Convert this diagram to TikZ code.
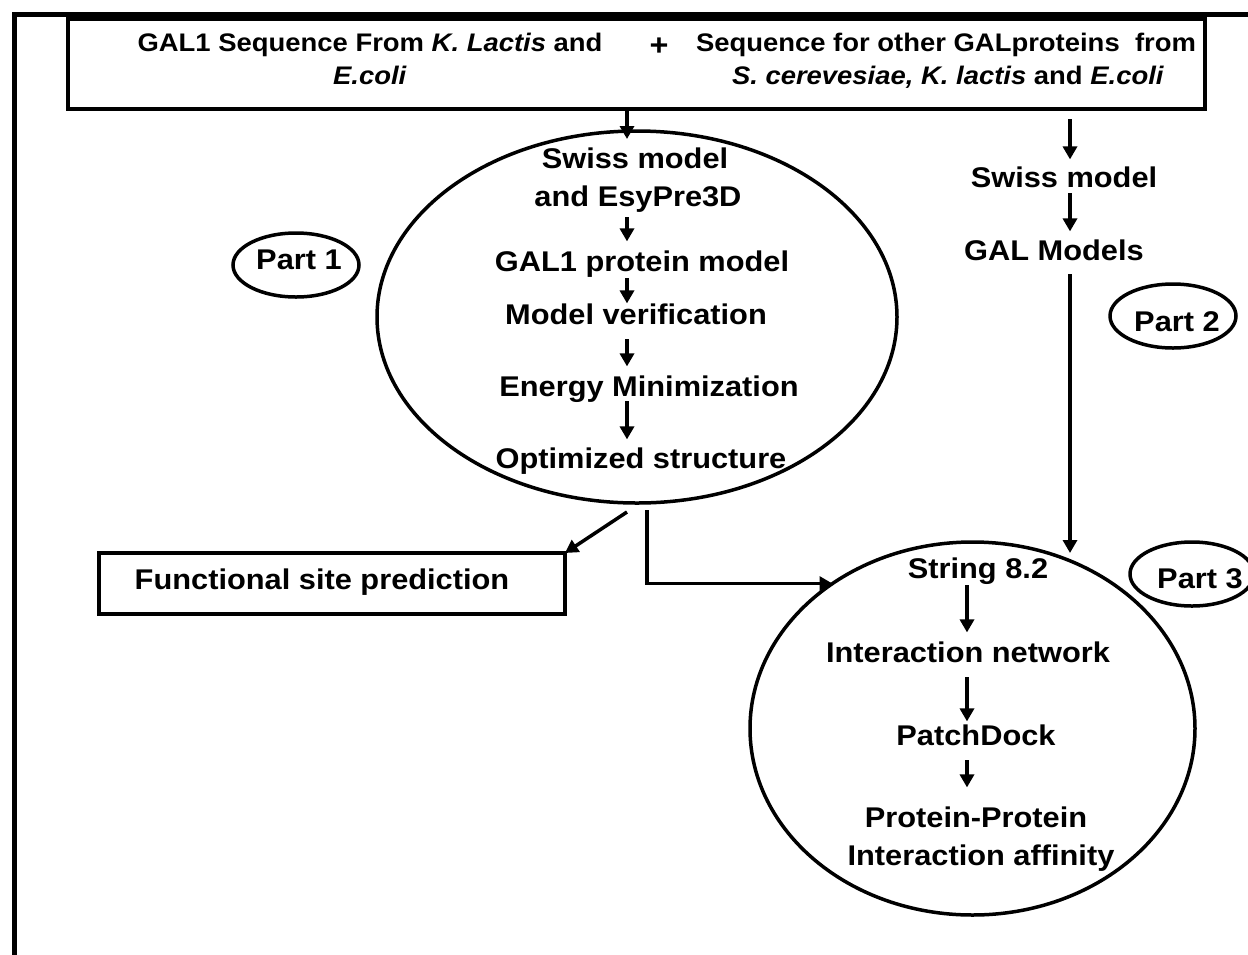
\documentclass[tikz,border=0pt]{standalone}
\usepackage{fontspec}
\setmainfont{Liberation Sans}[FakeStretch=1.08]
\usetikzlibrary{shapes.geometric,arrows.meta,calc}
\tikzset{
  frameline/.style={line width=5pt},
  boxline/.style={draw,line width=4pt,inner sep=0pt,outer sep=0pt},
  bigell/.style={draw,ellipse,line width=3.5pt,inner sep=0pt,outer sep=0pt},
  partell/.style={draw,ellipse,line width=3.5pt,inner sep=0pt,minimum width=126pt,minimum height=64pt},
  txt/.style={inner sep=0pt,anchor=base,text height=20.4pt,text depth=0pt,
    font=\bfseries\fontsize{28.5}{34}\selectfont},
  toptxt/.style={inner sep=0pt,anchor=base,text height=18.2pt,text depth=0pt,
    font=\bfseries\fontsize{25.4}{30}\selectfont},
  arr/.style={line width=3.5pt,-{Triangle[length=13pt,width=14pt]}},
}
\begin{document}
\begin{tikzpicture}[x=1pt,y=-1pt]
\useasboundingbox (0,0) rectangle (1248,954);
% outer frame
\draw[frameline] (14,956) -- (14,14.5) -- (1252,14.5);
% top box
\node[boxline,minimum width=1137pt,minimum height=90pt] (top) at (636.5,64) {};
\node[toptxt] (tl1) at (370,51) {GAL1 Sequence From \textit{K. Lactis} and};
\node[toptxt] (tl2) at (370,84) {\textit{E.coli}};
\node[inner sep=0pt,font=\bfseries\fontsize{30}{34}\selectfont] (plus) at (659,47) {+};
\node[toptxt] (tr1) at (946,51) {Sequence for other GALproteins\ \ from};
\node[toptxt] (tr2) at (948,84) {\textit{S. cerevesiae, K. lactis} and \textit{E.coli}};
% columns
\coordinate (c1) at (627,0);
\coordinate (c2) at (1070,0);
\coordinate (c3) at (647,0);
\coordinate (c4) at (967,0);
% ellipse 1
\node[bigell,minimum width=520pt,minimum height=372pt] (e1) at (637,317) {};
\node[txt] (sm1) at (635,168) {Swiss model};
\node[txt] (esy) at (638,206) {and EsyPre3D};
\node[txt] (gal1) at (642,271) {GAL1 protein model};
\node[txt] (mv) at (636,324) {Model verification};
\node[txt] (em) at (649,396) {Energy Minimization};
\node[txt] (os) at (641,468) {Optimized structure};
% part labels
\node[partell] (p1) at (296,265) {};
\node[txt] (p1t) at (299,269) {Part 1};
\node[partell] (p2) at (1173,316) {};
\node[txt] (p2t) at (1177,331) {Part 2};
\node[partell,minimum width=124pt] (p3) at (1192,574) {};
\node[txt] (p3t) at (1200,588) {Part 3};
% right column
\node[txt] (sm2) at (1064,187) {Swiss model};
\node[txt] (galm) at (1054,260) {GAL Models};
% functional site box
\node[boxline,minimum width=466pt,minimum height=61pt] (fsp) at (332,583.5) {};
\node[txt] (fspt) at (322,589) {Functional site prediction};
% ellipse 2
\node[bigell,minimum width=445pt,minimum height=373pt] (e2) at (972.5,728.5) {};
\node[txt] (s82) at (978,578) {String 8.2};
\node[txt] (inet) at (968,662) {Interaction network};
\node[txt] (pd) at (976,745) {PatchDock};
\node[txt] (ppi1) at (976,827) {Protein-Protein};
\node[txt] (ppi2) at (981,865) {Interaction affinity};
% connectors
\draw[arr] (top.south -| c1) -- ($(e1.north -| c1)+(0,8)$);
\draw[arr,shorten <=11pt,shorten >=9pt] (esy.south -| c1) -- (gal1.north -| c1);
\draw[arr,shorten <=7pt] (gal1.south -| c1) -- (mv.north -| c1);
\draw[arr,shorten <=15pt,shorten >=9pt] (mv.south -| c1) -- (em.north -| c1);
\draw[arr,shorten <=5pt,shorten >=8pt] (em.south -| c1) -- (os.north -| c1);
\draw[arr,shorten <=10pt,shorten >=7pt] (top.south -| c2) -- (sm2.north -| c2);
\draw[arr,shorten <=6pt,shorten >=8pt] (sm2.south -| c2) -- (galm.north -| c2);
\draw[arr,shorten <=14pt,shorten >=-11pt] (galm.south -| c2) -- (e2.north -| c2);
\draw[arr] ($(e1.south -| c1)+(0,9)$) -- (fsp.north east);
\draw[arr,line cap=rect] ($(e1.south -| c3)+(0,9)$) |- (e2.134);
\draw[arr,shorten <=7pt,shorten >=9pt] (s82.south -| c4) -- (inet.north -| c4);
\draw[arr,shorten <=15pt,shorten >=3pt] (inet.south -| c4) -- (pd.north -| c4);
\draw[arr,shorten <=15pt,shorten >=19pt] (pd.south -| c4) -- (ppi1.north -| c4);
\end{tikzpicture}
\end{document}
